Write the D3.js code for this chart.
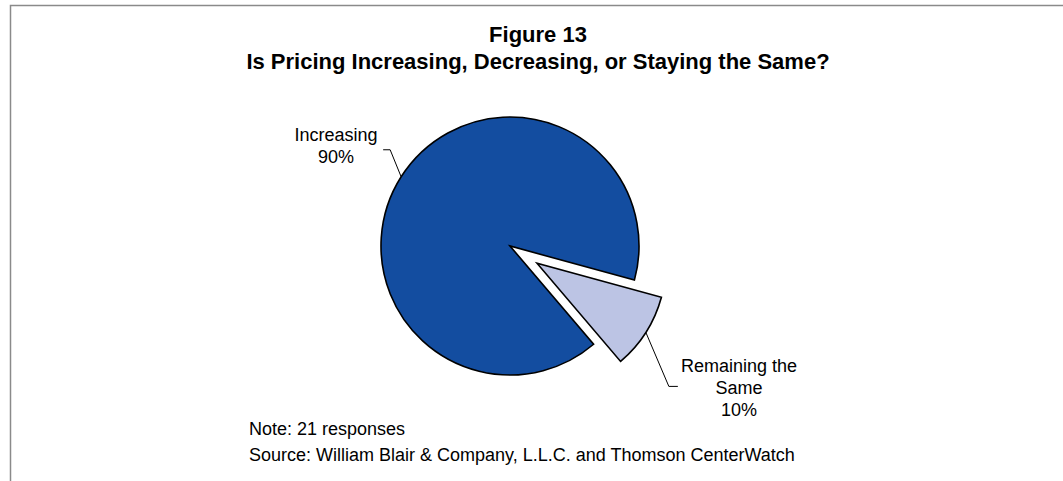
<!DOCTYPE html>
<html>
<head>
<meta charset="utf-8">
<script src="https://cdn.jsdelivr.net/npm/d3@7"></script>
<style>
  html, body { margin: 0; padding: 0; background: #ffffff; }
  svg { display: block; font-family: Arial, "Liberation Sans", sans-serif; }
</style>
</head>
<body>
<svg id="chart" width="1063" height="481"></svg>
<script>
// Survey responses (21 in total)
const categories = ["Increasing", "Remaining the Same"];
const responses = [19, 2];
const labelLines = [["Increasing"], ["Remaining the", "Same"]];
const sliceColors = ["#134DA0", "#BCC4E4"];
const titleLines = ["Figure 13", "Is Pricing Increasing, Decreasing, or Staying the Same?"];
const footnotes = ["Note: 21 responses", "Source: William Blair & Company, L.L.C. and Thomson CenterWatch"];

const svg = d3.select("#chart");
const W = 1063, H = 481;

// frame
svg.append("path")
  .attr("d", `M10.5,${H + 2}V5.5H${W + 2}`)
  .attr("fill", "none")
  .attr("stroke", "#8a8a8a")
  .attr("stroke-width", 1.5);

// title
const title = svg.append("text")
  .attr("text-anchor", "middle")
  .attr("font-weight", "bold")
  .attr("font-size", 22)
  .attr("fill", "#000");
titleLines.forEach((t, i) => {
  title.append("tspan").attr("x", 538).attr("y", 42 + i * 27).text(t);
});

// pie
const cx = 510, cy = 246, r = 129;
const total = d3.sum(responses);
const data = categories.map((c, i) => ({ name: c, value: responses[i], i }));
const startDeg = 139.6;
const pie = d3.pie()
  .value(d => d.value)
  .sort(null)
  .startAngle(startDeg * Math.PI / 180)
  .endAngle(startDeg * Math.PI / 180 + 2 * Math.PI);
const arcs = pie(data);
const arc = d3.arc().innerRadius(0).outerRadius(r);
const explode = [0, 32];
const pct = d3.format(".0%");

const g = svg.append("g").attr("transform", `translate(${cx},${cy})`);

arcs.forEach((a, i) => {
  const mid = (a.startAngle + a.endAngle) / 2;
  const ox = explode[i] * Math.sin(mid), oy = -explode[i] * Math.cos(mid);
  g.append("path")
    .attr("d", arc(a))
    .attr("transform", `translate(${ox},${oy})`)
    .attr("fill", sliceColors[i])
    .attr("stroke", "#000")
    .attr("stroke-width", 1.6)
    .attr("stroke-linejoin", "miter");
});

// data labels; each leader line starts at the middle of its slice's outer edge
const labelSpec = [
  { pts: [[-11, -27], [-18, -27]], tx: 336, ty: 141 },
  { pts: [[23, 54], [32, 54]], tx: 739, ty: 372 }
];
arcs.forEach((a, i) => {
  const spec = labelSpec[i];
  const mid = (a.startAngle + a.endAngle) / 2;
  const ox = explode[i] * Math.sin(mid), oy = -explode[i] * Math.cos(mid);
  const x0 = cx + ox + r * Math.sin(mid), y0 = cy + oy - r * Math.cos(mid);
  const pts = [[x0, y0]].concat(spec.pts.map(p => [x0 + p[0], y0 + p[1]]));
  svg.append("path")
    .attr("d", d3.line()(pts))
    .attr("fill", "none")
    .attr("stroke", "#000")
    .attr("stroke-width", 1);

  const t = svg.append("text")
    .attr("text-anchor", "middle")
    .attr("font-size", 18)
    .attr("fill", "#000");
  const lines = labelLines[i].concat([pct(a.data.value / total)]);
  lines.forEach((s, k) => {
    t.append("tspan").attr("x", spec.tx).attr("y", spec.ty + k * 22).text(s);
  });
});

// footnotes
footnotes.forEach((s, k) => {
  svg.append("text")
    .attr("x", 249).attr("y", 435 + k * 26)
    .attr("font-size", 18)
    .attr("fill", "#000")
    .text(s);
});
</script>
</body>
</html>
